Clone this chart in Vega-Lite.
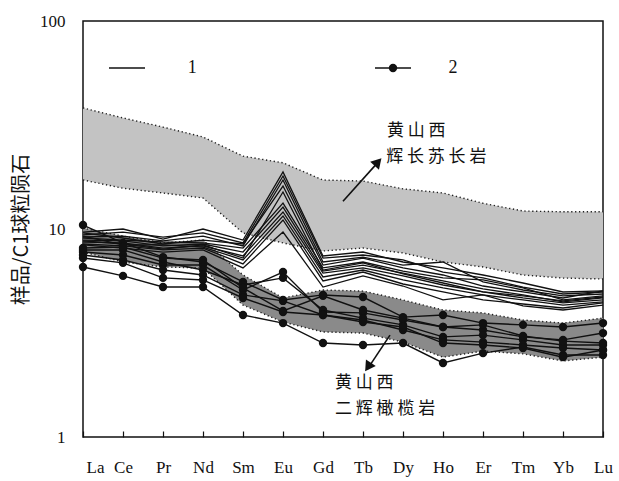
{
 "$schema": "https://vega.github.io/schema/vega-lite/v6.json",
 "width": 520, "height": 416,
 "autosize": "none",
 "padding": {"left": 83, "top": 21, "right": 16, "bottom": 44},
 "config": {"view": {"stroke": "#111111", "strokeWidth": 1.5}, "background": "white"},
 "resolve": {"axis": {"x": "independent", "y": "independent"}},
 "datasets": {
  "band": [
   {"i":1,"lhi":38.2,"llo":17.2,"dhi":10.1,"dlo":7.75},
   {"i":2,"lhi":34.2,"llo":15.7,"dhi":9.25,"dlo":6.94},
   {"i":3,"lhi":30.9,"llo":14.9,"dhi":8.57,"dlo":6.57},
   {"i":4,"lhi":27.7,"llo":14.1,"dhi":8.85,"dlo":6.49},
   {"i":5,"lhi":22.4,"llo":9.57,"dhi":6.01,"dlo":4.31},
   {"i":6,"lhi":20.8,"llo":8.57,"dhi":4.66,"dlo":3.57},
   {"i":7,"lhi":17.2,"llo":7.84,"dhi":5.09,"dlo":3.2},
   {"i":8,"lhi":17.0,"llo":8.1,"dhi":5.03,"dlo":3.16},
   {"i":9,"lhi":15.6,"llo":7.67,"dhi":4.56,"dlo":2.86},
   {"i":10,"lhi":14.9,"llo":6.94,"dhi":4.08,"dlo":2.42},
   {"i":11,"lhi":13.3,"llo":6.57,"dhi":3.95,"dlo":2.59},
   {"i":12,"lhi":12.2,"llo":6.01,"dhi":3.65,"dlo":2.51},
   {"i":13,"lhi":12.1,"llo":5.81,"dhi":3.53,"dlo":2.32},
   {"i":14,"lhi":12.1,"llo":5.75,"dhi":3.73,"dlo":2.42}
  ],
  "lines": [
   {"s":"L1","t":1,"i":1,"v":9.67},{"s":"L1","t":1,"i":2,"v":10.0},{"s":"L1","t":1,"i":3,"v":8.95},{"s":"L1","t":1,"i":4,"v":10.0},{"s":"L1","t":1,"i":5,"v":8.85},{"s":"L1","t":1,"i":6,"v":18.8},{"s":"L1","t":1,"i":7,"v":7.42},{"s":"L1","t":1,"i":8,"v":7.75},{"s":"L1","t":1,"i":9,"v":6.94},{"s":"L1","t":1,"i":10,"v":6.5},{"s":"L1","t":1,"i":11,"v":6.01},{"s":"L1","t":1,"i":12,"v":5.5},{"s":"L1","t":1,"i":13,"v":4.98},{"s":"L1","t":1,"i":14,"v":5.04},
   {"s":"L2","t":1,"i":1,"v":9.36},{"s":"L2","t":1,"i":2,"v":9.67},{"s":"L2","t":1,"i":3,"v":9.15},{"s":"L2","t":1,"i":4,"v":9.57},{"s":"L2","t":1,"i":5,"v":8.57},{"s":"L2","t":1,"i":6,"v":17.98},{"s":"L2","t":1,"i":7,"v":7.25},{"s":"L2","t":1,"i":8,"v":7.5},{"s":"L2","t":1,"i":9,"v":7.1},{"s":"L2","t":1,"i":10,"v":6.21},{"s":"L2","t":1,"i":11,"v":5.82},{"s":"L2","t":1,"i":12,"v":5.26},{"s":"L2","t":1,"i":13,"v":4.87},{"s":"L2","t":1,"i":14,"v":4.98},
   {"s":"L3","t":1,"i":1,"v":9.15},{"s":"L3","t":1,"i":2,"v":9.25},{"s":"L3","t":1,"i":3,"v":8.76},{"s":"L3","t":1,"i":4,"v":9.25},{"s":"L3","t":1,"i":5,"v":8.29},{"s":"L3","t":1,"i":6,"v":17.2},{"s":"L3","t":1,"i":7,"v":6.94},{"s":"L3","t":1,"i":8,"v":7.33},{"s":"L3","t":1,"i":9,"v":6.71},{"s":"L3","t":1,"i":10,"v":6.94},{"s":"L3","t":1,"i":11,"v":5.57},{"s":"L3","t":1,"i":12,"v":5.09},{"s":"L3","t":1,"i":13,"v":4.77},{"s":"L3","t":1,"i":14,"v":4.87},
   {"s":"L4","t":1,"i":1,"v":9.57},{"s":"L4","t":1,"i":2,"v":9.05},{"s":"L4","t":1,"i":3,"v":8.47},{"s":"L4","t":1,"i":4,"v":8.85},{"s":"L4","t":1,"i":5,"v":8.47},{"s":"L4","t":1,"i":6,"v":16.09},{"s":"L4","t":1,"i":7,"v":6.71},{"s":"L4","t":1,"i":8,"v":7.25},{"s":"L4","t":1,"i":9,"v":6.5},{"s":"L4","t":1,"i":10,"v":6.01},{"s":"L4","t":1,"i":11,"v":5.32},{"s":"L4","t":1,"i":12,"v":4.98},{"s":"L4","t":1,"i":13,"v":4.66},{"s":"L4","t":1,"i":14,"v":5.04},
   {"s":"L5","t":1,"i":1,"v":9.05},{"s":"L5","t":1,"i":2,"v":8.85},{"s":"L5","t":1,"i":3,"v":8.66},{"s":"L5","t":1,"i":4,"v":8.57},{"s":"L5","t":1,"i":5,"v":8.1},{"s":"L5","t":1,"i":6,"v":13.33},{"s":"L5","t":1,"i":7,"v":6.5},{"s":"L5","t":1,"i":8,"v":6.94},{"s":"L5","t":1,"i":9,"v":6.28},{"s":"L5","t":1,"i":10,"v":5.82},{"s":"L5","t":1,"i":11,"v":5.69},{"s":"L5","t":1,"i":12,"v":5.21},{"s":"L5","t":1,"i":13,"v":4.56},{"s":"L5","t":1,"i":14,"v":4.77},
   {"s":"L6","t":1,"i":1,"v":8.85},{"s":"L6","t":1,"i":2,"v":8.76},{"s":"L6","t":1,"i":3,"v":8.29},{"s":"L6","t":1,"i":4,"v":8.47},{"s":"L6","t":1,"i":5,"v":7.75},{"s":"L6","t":1,"i":6,"v":12.75},{"s":"L6","t":1,"i":7,"v":6.28},{"s":"L6","t":1,"i":8,"v":6.71},{"s":"L6","t":1,"i":9,"v":6.14},{"s":"L6","t":1,"i":10,"v":5.63},{"s":"L6","t":1,"i":11,"v":5.15},{"s":"L6","t":1,"i":12,"v":4.82},{"s":"L6","t":1,"i":13,"v":4.46},{"s":"L6","t":1,"i":14,"v":4.66},
   {"s":"L7","t":1,"i":1,"v":8.66},{"s":"L7","t":1,"i":2,"v":8.57},{"s":"L7","t":1,"i":3,"v":8.1},{"s":"L7","t":1,"i":4,"v":8.29},{"s":"L7","t":1,"i":5,"v":7.42},{"s":"L7","t":1,"i":6,"v":12.07},{"s":"L7","t":1,"i":7,"v":6.14},{"s":"L7","t":1,"i":8,"v":6.5},{"s":"L7","t":1,"i":9,"v":5.95},{"s":"L7","t":1,"i":10,"v":5.38},{"s":"L7","t":1,"i":11,"v":4.98},{"s":"L7","t":1,"i":12,"v":4.66},{"s":"L7","t":1,"i":13,"v":4.41},{"s":"L7","t":1,"i":14,"v":4.56},
   {"s":"L8","t":1,"i":1,"v":9.25},{"s":"L8","t":1,"i":2,"v":8.38},{"s":"L8","t":1,"i":3,"v":8.38},{"s":"L8","t":1,"i":4,"v":8.19},{"s":"L8","t":1,"i":5,"v":7.1},{"s":"L8","t":1,"i":6,"v":11.55},{"s":"L8","t":1,"i":7,"v":5.88},{"s":"L8","t":1,"i":8,"v":6.35},{"s":"L8","t":1,"i":9,"v":5.69},{"s":"L8","t":1,"i":10,"v":5.21},{"s":"L8","t":1,"i":11,"v":4.82},{"s":"L8","t":1,"i":12,"v":4.56},{"s":"L8","t":1,"i":13,"v":4.31},{"s":"L8","t":1,"i":14,"v":4.46},
   {"s":"L9","t":1,"i":1,"v":8.47},{"s":"L9","t":1,"i":2,"v":8.29},{"s":"L9","t":1,"i":3,"v":7.93},{"s":"L9","t":1,"i":4,"v":8.1},{"s":"L9","t":1,"i":5,"v":6.79},{"s":"L9","t":1,"i":6,"v":11.05},{"s":"L9","t":1,"i":7,"v":5.63},{"s":"L9","t":1,"i":8,"v":6.21},{"s":"L9","t":1,"i":9,"v":5.44},{"s":"L9","t":1,"i":10,"v":4.98},{"s":"L9","t":1,"i":11,"v":4.56},{"s":"L9","t":1,"i":12,"v":4.36},{"s":"L9","t":1,"i":13,"v":4.17},{"s":"L9","t":1,"i":14,"v":4.41},
   {"s":"L10","t":1,"i":1,"v":8.38},{"s":"L10","t":1,"i":2,"v":8.1},{"s":"L10","t":1,"i":3,"v":7.75},{"s":"L10","t":1,"i":4,"v":7.93},{"s":"L10","t":1,"i":5,"v":6.5},{"s":"L10","t":1,"i":6,"v":9.67},{"s":"L10","t":1,"i":7,"v":5.26},{"s":"L10","t":1,"i":8,"v":5.95},{"s":"L10","t":1,"i":9,"v":5.32},{"s":"L10","t":1,"i":10,"v":4.56},{"s":"L10","t":1,"i":11,"v":4.82},{"s":"L10","t":1,"i":12,"v":4.27},{"s":"L10","t":1,"i":13,"v":4.08},{"s":"L10","t":1,"i":14,"v":4.31},
   {"s":"L11","t":1,"i":1,"v":8.76},{"s":"L11","t":1,"i":2,"v":8.47},{"s":"L11","t":1,"i":3,"v":8.01},{"s":"L11","t":1,"i":4,"v":8.38},{"s":"L11","t":1,"i":5,"v":7.25},{"s":"L11","t":1,"i":6,"v":15.06},{"s":"L11","t":1,"i":7,"v":6.35},{"s":"L11","t":1,"i":8,"v":6.87},{"s":"L11","t":1,"i":9,"v":6.08},{"s":"L11","t":1,"i":10,"v":5.5},{"s":"L11","t":1,"i":11,"v":4.98},{"s":"L11","t":1,"i":12,"v":4.77},{"s":"L11","t":1,"i":13,"v":4.51},{"s":"L11","t":1,"i":14,"v":4.71},
   {"s":"A","t":2,"i":1,"v":6.57},{"s":"A","t":2,"i":2,"v":5.95},{"s":"A","t":2,"i":3,"v":5.26},{"s":"A","t":2,"i":4,"v":5.26},{"s":"A","t":2,"i":5,"v":3.86},{"s":"A","t":2,"i":6,"v":3.53},{"s":"A","t":2,"i":7,"v":2.83},{"s":"A","t":2,"i":8,"v":2.77},{"s":"A","t":2,"i":9,"v":2.83},{"s":"A","t":2,"i":10,"v":2.27},{"s":"A","t":2,"i":11,"v":2.53},{"s":"A","t":2,"i":12,"v":2.71},{"s":"A","t":2,"i":13,"v":2.48},{"s":"A","t":2,"i":14,"v":2.48},
   {"s":"B","t":2,"i":1,"v":10.45},{"s":"B","t":2,"i":2,"v":8.57},{"s":"B","t":2,"i":3,"v":7.33},{"s":"B","t":2,"i":4,"v":6.94},{"s":"B","t":2,"i":5,"v":5.57},{"s":"B","t":2,"i":6,"v":4.56},{"s":"B","t":2,"i":7,"v":4.82},{"s":"B","t":2,"i":8,"v":4.71},{"s":"B","t":2,"i":9,"v":3.77},{"s":"B","t":2,"i":10,"v":3.86},{"s":"B","t":2,"i":11,"v":3.53},{"s":"B","t":2,"i":12,"v":3.46},{"s":"B","t":2,"i":13,"v":3.38},{"s":"B","t":2,"i":14,"v":3.53},
   {"s":"C","t":2,"i":1,"v":7.75},{"s":"C","t":2,"i":2,"v":7.5},{"s":"C","t":2,"i":3,"v":6.71},{"s":"C","t":2,"i":4,"v":6.71},{"s":"C","t":2,"i":5,"v":5.09},{"s":"C","t":2,"i":6,"v":6.21},{"s":"C","t":2,"i":7,"v":3.99},{"s":"C","t":2,"i":8,"v":3.95},{"s":"C","t":2,"i":9,"v":3.65},{"s":"C","t":2,"i":10,"v":3.38},{"s":"C","t":2,"i":11,"v":3.27},{"s":"C","t":2,"i":12,"v":3.03},{"s":"C","t":2,"i":13,"v":2.93},{"s":"C","t":2,"i":14,"v":3.16},
   {"s":"D","t":2,"i":1,"v":7.93},{"s":"D","t":2,"i":2,"v":7.93},{"s":"D","t":2,"i":3,"v":6.94},{"s":"D","t":2,"i":4,"v":6.35},{"s":"D","t":2,"i":5,"v":5.38},{"s":"D","t":2,"i":6,"v":5.82},{"s":"D","t":2,"i":7,"v":4.08},{"s":"D","t":2,"i":8,"v":3.73},{"s":"D","t":2,"i":9,"v":3.46},{"s":"D","t":2,"i":10,"v":3.03},{"s":"D","t":2,"i":11,"v":3.09},{"s":"D","t":2,"i":12,"v":2.93},{"s":"D","t":2,"i":13,"v":2.77},{"s":"D","t":2,"i":14,"v":2.77},
   {"s":"E","t":2,"i":1,"v":7.5},{"s":"E","t":2,"i":2,"v":7.1},{"s":"E","t":2,"i":3,"v":6.35},{"s":"E","t":2,"i":4,"v":6.01},{"s":"E","t":2,"i":5,"v":4.82},{"s":"E","t":2,"i":6,"v":4.51},{"s":"E","t":2,"i":7,"v":3.86},{"s":"E","t":2,"i":8,"v":3.65},{"s":"E","t":2,"i":9,"v":3.27},{"s":"E","t":2,"i":10,"v":2.93},{"s":"E","t":2,"i":11,"v":2.86},{"s":"E","t":2,"i":12,"v":2.77},{"s":"E","t":2,"i":13,"v":2.68},{"s":"E","t":2,"i":14,"v":2.62},
   {"s":"F","t":2,"i":1,"v":7.25},{"s":"F","t":2,"i":2,"v":6.87},{"s":"F","t":2,"i":3,"v":5.82},{"s":"F","t":2,"i":4,"v":5.69},{"s":"F","t":2,"i":5,"v":4.66},{"s":"F","t":2,"i":6,"v":3.99},{"s":"F","t":2,"i":7,"v":3.86},{"s":"F","t":2,"i":8,"v":3.57},{"s":"F","t":2,"i":9,"v":3.38},{"s":"F","t":2,"i":10,"v":2.83},{"s":"F","t":2,"i":11,"v":2.77},{"s":"F","t":2,"i":12,"v":2.68},{"s":"F","t":2,"i":13,"v":2.42},{"s":"F","t":2,"i":14,"v":2.62},
   {"s":"G","t":2,"i":1,"v":8.1},{"s":"G","t":2,"i":2,"v":8.19},{"s":"G","t":2,"i":3,"v":7.25},{"s":"G","t":2,"i":4,"v":7.1},{"s":"G","t":2,"i":5,"v":5.21},{"s":"G","t":2,"i":6,"v":4.04},{"s":"G","t":2,"i":7,"v":4.77},{"s":"G","t":2,"i":8,"v":4.08},{"s":"G","t":2,"i":9,"v":3.73},{"s":"G","t":2,"i":10,"v":3.38},{"s":"G","t":2,"i":11,"v":3.46},{"s":"G","t":2,"i":12,"v":3.06},{"s":"G","t":2,"i":13,"v":2.89},{"s":"G","t":2,"i":14,"v":2.83}
  ],
  "legendLines": [{"i":1.65,"i2":2.55,"v":59.4},{"i":8.3,"i2":9.2,"v":59.4}],
  "legendDots": [{"i":8.75,"v":59.4}],
  "legendText": [{"i":3.73,"v":59.4,"label":"1"},{"i":10.25,"v":59.4,"label":"2"}],
  "notes": [
   {"i":8.6,"v":29.6,"label":"黄 山 西"},
   {"i":8.58,"v":22.2,"label":"辉 长 苏 长 岩"},
   {"i":7.3,"v":1.82,"label":"黄 山 西"},
   {"i":7.3,"v":1.36,"label":"二 辉 橄 榄 岩"}
  ],
  "arrows": [
   {"i":7.5,"v":13.6,"i2":8.4,"v2":21.2},
   {"i":8.675,"v":3.09,"i2":8.11,"v2":2.12}
  ],
  "heads": [
   {"i":8.375,"v":21.0,"ang":42},
   {"i":8.125,"v":2.17,"ang":214}
  ]
 },
 "layer": [
  {
   "data": {"name": "band"},
   "mark": {"type": "area", "color": "#c3c3c3", "opacity": 1},
   "encoding": {
    "x": {"field": "i", "type": "quantitative", "scale": {"domain": [1, 14], "nice": false, "zero": false},
     "axis": {"values": [1,2,3,4,5,6,7,8,9,10,11,12,13,14], "title": null, "grid": false, "domain": false,
      "tickSize": -6, "tickColor": "#111111", "tickWidth": 1.2,
      "labelExpr": "['','La','Ce','Pr','Nd','Sm','Eu','Gd','Tb','Dy','Ho','Er','Tm','Yb','Lu'][datum.value]",
      "labelFont": "Liberation Serif", "labelFontSize": 17, "labelColor": "#111111", "labelPadding": 28,
      "labelOverlap": false, "labelFlush": false,
      "labelOffset": {"condition": {"test": "datum.value == 1", "value": 12}, "value": 0}}},
    "y": {"field": "lhi", "type": "quantitative", "scale": {"type": "log", "domain": [1, 100], "nice": false},
     "axis": {"values": [1, 10, 100], "title": "样品/C1球粒陨石", "grid": false, "domain": false, "ticks": false,
      "labelExpr": "format(datum.value, 'd')", "labelFont": "Liberation Serif", "labelFontSize": 17,
      "labelColor": "#111111", "labelPadding": 18,
      "titleFont": "Noto Sans CJK SC", "titleFontSize": 20, "titleFontWeight": "normal", "titleColor": "#111111", "titlePadding": 8}},
    "y2": {"field": "llo"}
   }
  },
  {
   "data": {"name": "band"},
   "mark": {"type": "area", "color": "#8a8a8a", "opacity": 1},
   "encoding": {
    "x": {"field": "i", "type": "quantitative", "axis": null},
    "y": {"field": "dhi", "type": "quantitative", "axis": null},
    "y2": {"field": "dlo"}
   }
  },
  {
   "data": {"name": "band"},
   "transform": [{"fold": ["lhi", "llo", "dhi", "dlo"], "as": ["edge", "val"]}],
   "mark": {"type": "line", "color": "#222222", "strokeWidth": 1.4, "strokeDash": [1.3, 2.6]},
   "encoding": {
    "x": {"field": "i", "type": "quantitative", "axis": null},
    "y": {"field": "val", "type": "quantitative", "axis": null},
    "detail": {"field": "edge"}
   }
  },
  {
   "data": {"name": "lines"},
   "transform": [{"filter": "datum.t == 1"}],
   "mark": {"type": "line", "color": "#111111", "strokeWidth": 1.3},
   "encoding": {
    "x": {"field": "i", "type": "quantitative", "axis": null},
    "y": {"field": "v", "type": "quantitative", "axis": null},
    "detail": {"field": "s"}
   }
  },
  {
   "data": {"name": "lines"},
   "transform": [{"filter": "datum.t == 2"}],
   "mark": {"type": "line", "color": "#111111", "strokeWidth": 1.4,
    "point": {"filled": true, "size": 70, "color": "#111111", "opacity": 1}},
   "encoding": {
    "x": {"field": "i", "type": "quantitative", "axis": null},
    "y": {"field": "v", "type": "quantitative", "axis": null},
    "detail": {"field": "s"}
   }
  },
  {
   "data": {"name": "legendLines"},
   "mark": {"type": "rule", "color": "#111111", "strokeWidth": 1.4},
   "encoding": {
    "x": {"field": "i", "type": "quantitative", "axis": null},
    "x2": {"field": "i2"},
    "y": {"field": "v", "type": "quantitative", "axis": null}
   }
  },
  {
   "data": {"name": "legendDots"},
   "mark": {"type": "point", "filled": true, "size": 70, "color": "#111111", "opacity": 1},
   "encoding": {
    "x": {"field": "i", "type": "quantitative", "axis": null},
    "y": {"field": "v", "type": "quantitative", "axis": null}
   }
  },
  {
   "data": {"name": "legendText"},
   "mark": {"type": "text", "font": "Liberation Serif", "fontSize": 18, "color": "#111111"},
   "encoding": {
    "x": {"field": "i", "type": "quantitative", "axis": null},
    "y": {"field": "v", "type": "quantitative", "axis": null},
    "text": {"field": "label"}
   }
  },
  {
   "data": {"name": "notes"},
   "mark": {"type": "text", "font": "Noto Sans CJK SC", "fontSize": 17, "align": "left", "color": "#111111"},
   "encoding": {
    "x": {"field": "i", "type": "quantitative", "axis": null},
    "y": {"field": "v", "type": "quantitative", "axis": null},
    "text": {"field": "label"}
   }
  },
  {
   "data": {"name": "arrows"},
   "mark": {"type": "rule", "color": "#111111", "strokeWidth": 1.6},
   "encoding": {
    "x": {"field": "i", "type": "quantitative", "axis": null},
    "y": {"field": "v", "type": "quantitative", "axis": null},
    "x2": {"field": "i2"},
    "y2": {"field": "v2"}
   }
  },
  {
   "data": {"name": "heads"},
   "mark": {"type": "point", "shape": "triangle-up", "filled": true, "size": 140, "color": "#111111", "opacity": 1},
   "encoding": {
    "x": {"field": "i", "type": "quantitative", "axis": null},
    "y": {"field": "v", "type": "quantitative", "axis": null},
    "angle": {"field": "ang", "type": "quantitative", "scale": null}
   }
  }
 ]
}
